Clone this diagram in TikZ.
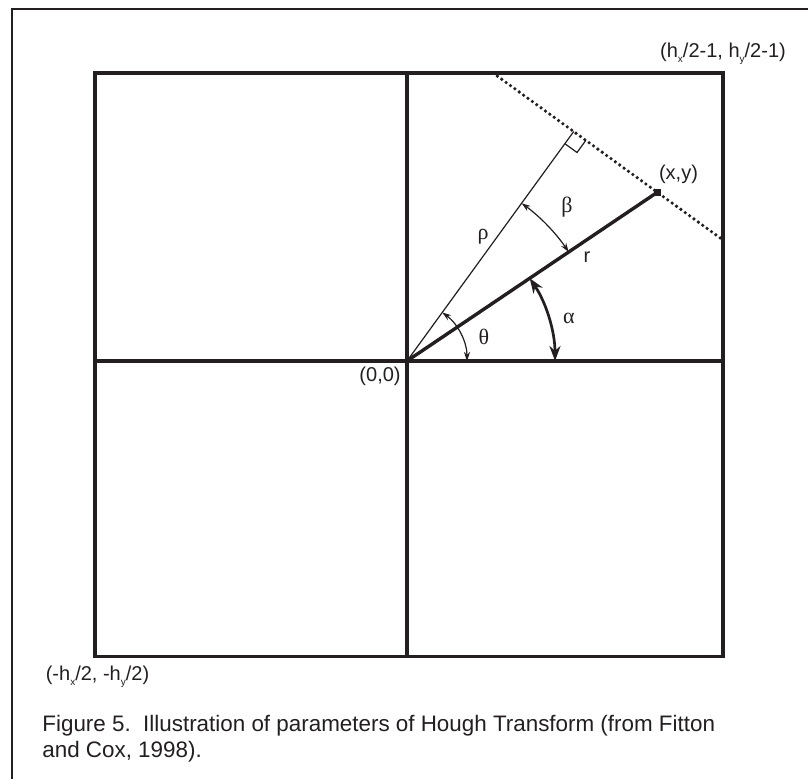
\documentclass[tikz,border=0pt]{standalone}
\usepackage{fontspec}
\setmainfont{Liberation Sans}
\newfontfamily\greekfont{Liberation Serif}
\usepackage{tikz}
\usetikzlibrary{arrows.meta, calc}
\definecolor{figink}{HTML}{231f20}
\newcommand{\lowidx}[1]{\raisebox{-0.45ex}{\fontsize{5}{5}\selectfont #1}}

\begin{document}
\begin{tikzpicture}[x=0.5pt, y=0.5pt, font=\fontsize{10}{12}\selectfont,
  frm/.style={draw=figink, line width=0.75pt},
  bx/.style={draw=figink, line width=1.65pt},
  rholn/.style={draw=figink, line width=0.6pt},
  rln/.style={draw=figink, line width=1.7pt},
  dotln/.style={draw=figink, line width=1.8pt, line cap=round, dash pattern=on 0pt off 2.7pt},
  angarr/.style={draw=figink, line width=0.6pt, arrows={Stealth[length=4.5pt,width=3pt]-Stealth[length=4.5pt,width=3pt]}},
  bigarr/.style={draw=figink, line width=1.35pt, arrows={Stealth[length=7.5pt,width=5.5pt]-Stealth[length=7.5pt,width=5.5pt]}},
  lbl/.style={text=figink, inner sep=0pt},
  gk/.style={lbl, font=\greekfont\fontsize{11}{13}\selectfont}]
\path[fill=white] (-407,-418) rectangle (401,361);
\useasboundingbox (-407,-418) rectangle (401,361);

\draw[frm] (-395,-418) |- (401,352);

\coordinate (O) at (0,0);
\coordinate (sw) at (-312,-295.5);
\coordinate (ne) at (316,288);
\draw[bx] (sw) rectangle (ne);
\draw[bx] (sw|-O) -- (ne|-O);
\draw[bx] (sw-|O) -- (ne-|O);

\coordinate (P) at (250.3,168.7);
\coordinate (F) at ($(O)!(P)!(54:100)$);
\coordinate (D1) at ($(F)!-0.965!(P)$);
\coordinate (D2) at ($(F)!1.788!(P)$);
\draw[dotln] (D1) -- (D2);
\draw[rholn] (O) -- (F);
\draw[rln] (O) -- (P);
\coordinate (ra) at ($(F)!7.5pt!(O)$);
\coordinate (rb) at ($(F)!7.5pt!(P)$);
\draw[rholn] (ra) -- ($(ra)+(rb)-(F)$) -- (rb);
\node[fill=figink, inner sep=0pt, minimum size=3.5pt] (xy) at (P) {};

\draw[angarr] (54:60) arc[start angle=54, end angle=0, radius=60];
\draw[bigarr] (34:148) arc[start angle=34, end angle=0, radius=148];
\draw[angarr] (54:195) arc[start angle=54, end angle=34, radius=195];

\node[lbl, anchor=north east] (org) at (-6,-6) {(0,0)};
\node[lbl] (xylbl) at (271.5,187) {(x,y)};
\node[lbl] (tr) at (316,307) {(h\lowidx{x}/2-1, h\lowidx{y}/2-1)};
\node[lbl] (bl) at (-309.5,-316) {(-h\lowidx{x}/2, -h\lowidx{y}/2)};

\node[gk] (beta) at (160,154) {β};
\node[gk] (rho) at (76,124) {ρ};
\node[lbl] (rlbl) at (180,104) {r};
\node[gk] (theta) at (77,24) {θ};
\node[gk] (alpha) at (162,43) {α};

\node[lbl, anchor=north west, align=left, font=\fontsize{11.2}{12.7}\selectfont] (cap) at (-365,-354)
  {Figure 5.\ \ Illustration of parameters of Hough Transform (from Fitton\\and Cox, 1998).};
\end{tikzpicture}
\end{document}
